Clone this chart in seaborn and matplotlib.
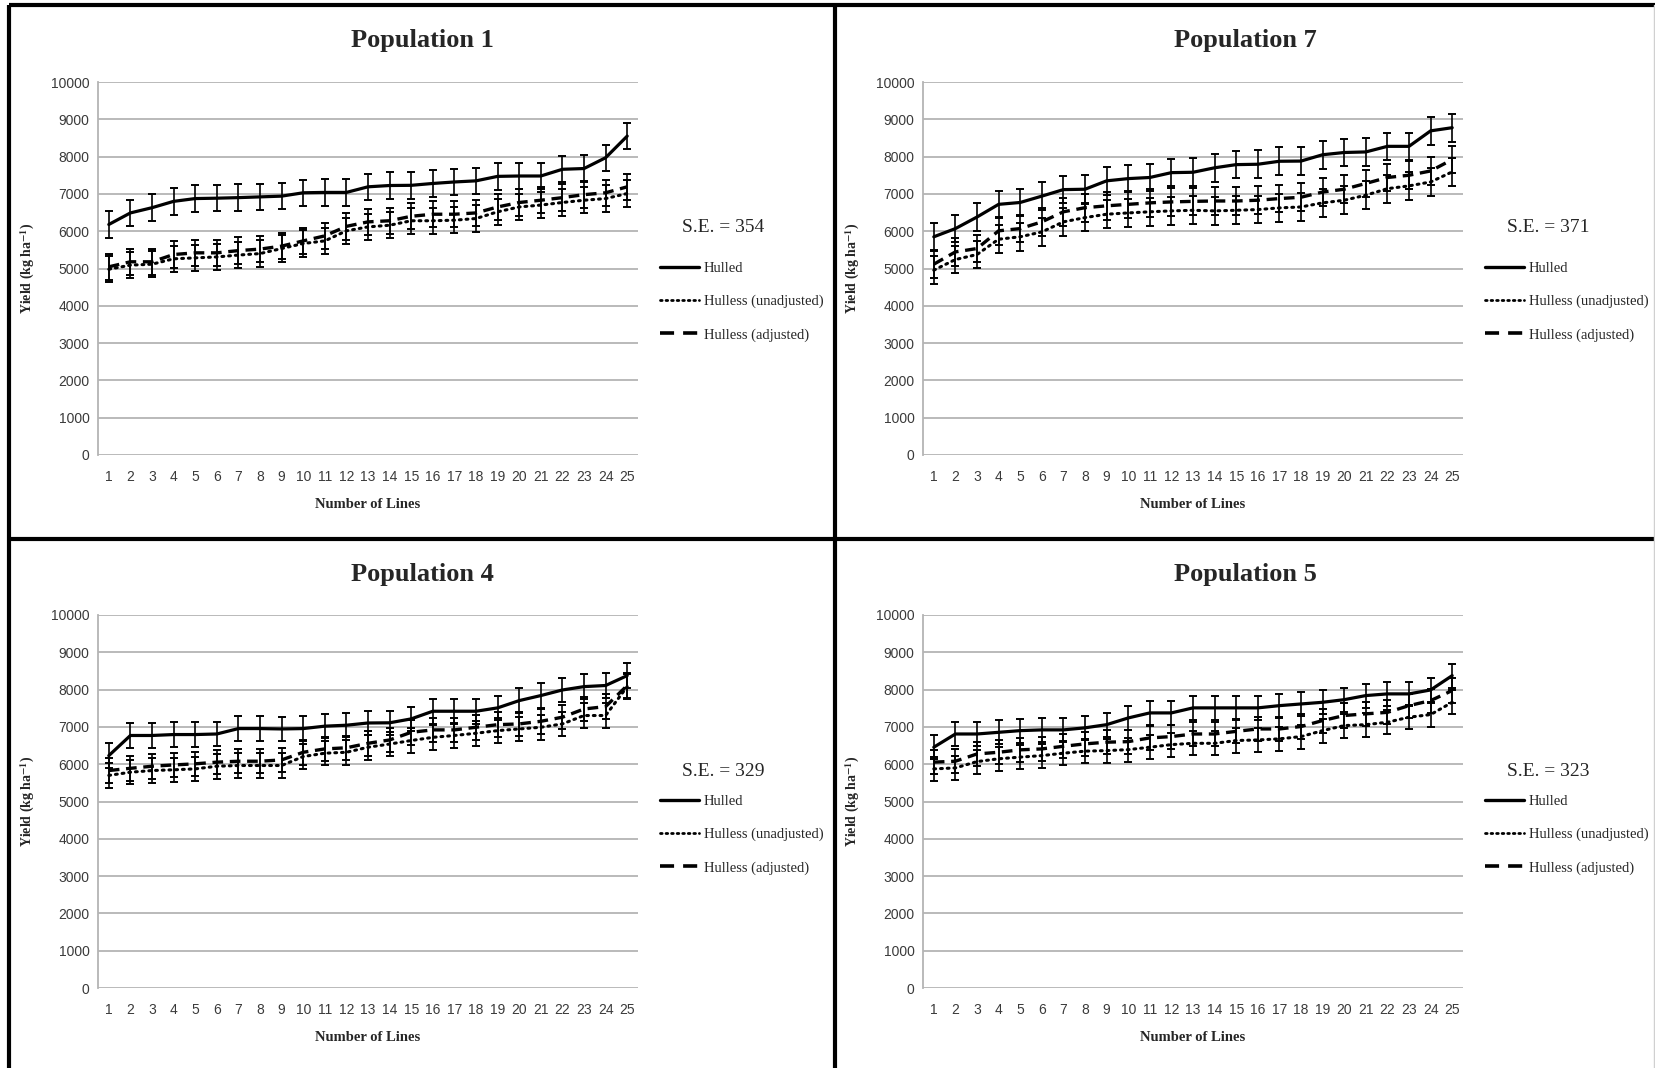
import numpy as np
import pandas as pd
import matplotlib
matplotlib.use("Agg")
import matplotlib.pyplot as plt
from matplotlib.lines import Line2D
import seaborn as sns

# ---------------- data ----------------
lines = list(range(1, 26))
series_names = ["Hulled", "Hulless (unadjusted)", "Hulless (adjusted)"]

pop1_hulled = [6180, 6490, 6630, 6800, 6875, 6885, 6900, 6920, 6940, 7030, 7040, 7040, 7190,
               7225, 7230, 7280, 7320, 7350, 7470, 7480, 7480, 7660, 7680, 7970, 8550]
pop1_unadj = [4980, 5090, 5115, 5260, 5285, 5310, 5360, 5400, 5535, 5670, 5740, 6010, 6115,
              6160, 6280, 6280, 6295, 6340, 6520, 6650, 6700, 6770, 6830, 6875, 7010]
pop1_adj = [5045, 5180, 5180, 5375, 5420, 5420, 5480, 5520, 5600, 5740, 5875, 6130, 6250,
            6280, 6400, 6455, 6455, 6490, 6650, 6770, 6830, 6900, 6980, 7030, 7190]

pop7_hulled = [5850, 6070, 6380, 6720, 6770, 6940, 7115, 7125, 7350, 7410, 7440, 7570, 7580,
               7700, 7785, 7795, 7875, 7880, 8050, 8110, 8125, 8275, 8275, 8690, 8775]
pop7_unadj = [4955, 5240, 5375, 5785, 5850, 5980, 6250, 6365, 6455, 6490, 6520, 6545, 6560,
              6545, 6560, 6580, 6625, 6650, 6760, 6830, 6965, 7140, 7215, 7320, 7590]
pop7_adj = [5115, 5445, 5535, 6010, 6070, 6250, 6520, 6630, 6680, 6720, 6760, 6785, 6800,
            6810, 6810, 6830, 6875, 6910, 7050, 7125, 7280, 7440, 7500, 7615, 7920]

pop4_hulled = [6230, 6770, 6770, 6795, 6795, 6810, 6955, 6955, 6945, 6955, 7020, 7045, 7105,
               7110, 7215, 7420, 7420, 7420, 7510, 7705, 7840, 7990, 8080, 8110, 8375]
pop4_unadj = [5700, 5785, 5830, 5850, 5875, 5945, 5965, 5965, 5965, 6205, 6295, 6320, 6455,
              6540, 6635, 6720, 6770, 6830, 6900, 6945, 6990, 7080, 7305, 7305, 8080]
pop4_adj = [5830, 5890, 5945, 5980, 6010, 6055, 6080, 6080, 6115, 6320, 6410, 6440, 6560,
            6650, 6855, 6920, 6920, 6990, 7060, 7080, 7150, 7260, 7480, 7545, 8110]

pop5_hulled = [6455, 6810, 6810, 6855, 6900, 6920, 6920, 6975, 7060, 7240, 7375, 7375, 7510,
               7510, 7510, 7510, 7570, 7615, 7660, 7730, 7840, 7885, 7885, 7990, 8375]
pop5_unadj = [5875, 5900, 6070, 6145, 6190, 6230, 6295, 6350, 6365, 6390, 6455, 6525, 6560,
              6560, 6635, 6650, 6680, 6740, 6900, 7035, 7060, 7125, 7260, 7330, 7660]
pop5_adj = [6055, 6080, 6275, 6320, 6385, 6410, 6480, 6545, 6590, 6605, 6705, 6740, 6810,
            6810, 6880, 6945, 6945, 7010, 7170, 7305, 7350, 7390, 7570, 7705, 7975]

panel_titles = ["Population 1", "Population 7", "Population 4", "Population 5"]
panel_se = [354, 371, 329, 323]
panel_data = [
    (pop1_hulled, pop1_unadj, pop1_adj),
    (pop7_hulled, pop7_unadj, pop7_adj),
    (pop4_hulled, pop4_unadj, pop4_adj),
    (pop5_hulled, pop5_unadj, pop5_adj),
]
y_ticks = list(range(0, 10001, 1000))

# ---------------- style ----------------
sns.set_theme(style="white")
plt.rcParams["font.family"] = ["Liberation Sans", "DejaVu Sans"]
plt.rcParams["mathtext.fontset"] = "stix"

W, H = 1656, 1068
fig = plt.figure(figsize=(W / 100, H / 100), dpi=100)
fig.patch.set_facecolor("white")

# axes boxes in pixel coordinates (left, top, right, bottom)
boxes = [(98, 82, 638, 455), (923, 82, 1463, 455),
         (98, 615, 638, 988), (923, 615, 1463, 988)]
panel_centers = [422, 1245, 422, 1245]
title_y = [40, 40, 575, 575]
se_y = [227, 227, 772, 772]
leg_top = [262, 262, 795, 795]

dash_map = {
    "Hulled": "",
    "Hulless (unadjusted)": (0.6, 1.6),
    "Hulless (adjusted)": (3.2, 2.0),
}
lw_map = {"Hulled": 2.3, "Hulless (unadjusted)": 2.2, "Hulless (adjusted)": 2.4}
serif = ["Liberation Serif", "DejaVu Serif"]

for i in range(4):
    l, t, r, b = boxes[i]
    ax = fig.add_axes([l / W, 1 - b / H, (r - l) / W, (b - t) / H])
    h, u, a = panel_data[i]
    df = pd.DataFrame({
        "line": lines * 3,
        "yield": list(h) + list(u) + list(a),
        "series": [series_names[0]] * 25 + [series_names[1]] * 25 + [series_names[2]] * 25,
    })
    se = panel_se[i]
    # error bars first
    for name, vals in zip(series_names, (h, u, a)):
        ax.errorbar(lines, vals, yerr=se, fmt="none", ecolor="black",
                    elinewidth=1.2, capsize=3.2, capthick=1.4, zorder=3)
    sns.lineplot(data=df, x="line", y="yield", style="series", style_order=series_names,
                 dashes=dash_map, color="black", ax=ax, legend=False, zorder=4)
    for ln, name in zip(ax.get_lines()[-3:], series_names):
        ln.set_linewidth(lw_map[name])
        if name == "Hulless (unadjusted)":
            ln.set_dash_capstyle("round")

    ax.set_xlim(0.5, 25.5)
    ax.set_ylim(0, 10000)
    ax.set_xticks(lines)
    ax.set_xticklabels([str(v) for v in lines])
    ax.set_yticks(y_ticks)
    ax.set_yticklabels([str(v) for v in y_ticks])
    ax.grid(axis="y", color="#b4b4b4", linewidth=1.3)
    ax.grid(axis="x", visible=False)
    ax.set_axisbelow(True)
    for s in ["top", "right", "bottom"]:
        ax.spines[s].set_visible(False)
    ax.spines["left"].set_color("#b4b4b4")
    ax.spines["left"].set_linewidth(1.3)
    ax.tick_params(axis="y", length=3, width=1.0, color="#b4b4b4", pad=3,
                   labelsize=10, labelcolor="#3a3a3a")
    ax.tick_params(axis="x", length=0, pad=11, labelsize=10, labelcolor="#3a3a3a")

    ax.set_xlabel("Number of Lines", fontsize=10.5, fontweight="bold", family=serif)
    ax.xaxis.set_label_coords(0.5, -0.115)
    ax.set_ylabel(r"Yield (kg ha$^{\mathbf{-1}}$)", fontsize=10, fontweight="bold", family=serif)
    ax.yaxis.set_label_coords((37 - 98) / 540, 0.5)

    # title centred on the panel
    fig.text(panel_centers[i] / W, 1 - title_y[i] / H, panel_titles[i], ha="center",
             va="center", fontsize=19, fontweight="bold", family=serif)
    # S.E. text (to the right of the axes)
    ax.text((r + 85 - l) / (r - l), 1 - (se_y[i] - t) / (b - t), f"S.E. = {se}",
            transform=ax.transAxes, ha="center", va="center", fontsize=14, family=serif)
    # legend
    handles = [Line2D([], [], color="black", lw=2.4, linestyle="-"),
               Line2D([], [], color="black", lw=2.0, linestyle=(0, (0.6, 1.4)),
                      dash_capstyle="round"),
               Line2D([], [], color="black", lw=2.6, linestyle=(0, (3.9, 2.5)))]
    ax.legend(handles, series_names, loc="upper left",
              bbox_to_anchor=((r + 22 - l) / (r - l), 1 - (leg_top[i] - t) / (b - t)),
              frameon=False, borderpad=0, borderaxespad=0, handlelength=2.7,
              handletextpad=0.3, labelspacing=1.35,
              prop={"family": serif, "size": 10.5})

# panel frame lines
lk = dict(color="black", linewidth=3.0, transform=fig.transFigure, solid_capstyle="butt")
fig.add_artist(Line2D([835 / W, 835 / W], [0, 1 - 5 / H], **lk))
fig.add_artist(Line2D([9 / W, 1], [1 - 539 / H, 1 - 539 / H], **lk))
fig.add_artist(Line2D([9 / W, 1], [1 - 5 / H, 1 - 5 / H], **lk))
fig.add_artist(Line2D([9 / W, 9 / W], [0, 1 - 5 / H], **lk))
fig.add_artist(Line2D([1654.5 / W, 1654.5 / W], [0, 1 - 5 / H], color="#d0d0d0",
                      linewidth=1.0, transform=fig.transFigure))

fig.savefig("out.png", dpi=100, facecolor="white")
